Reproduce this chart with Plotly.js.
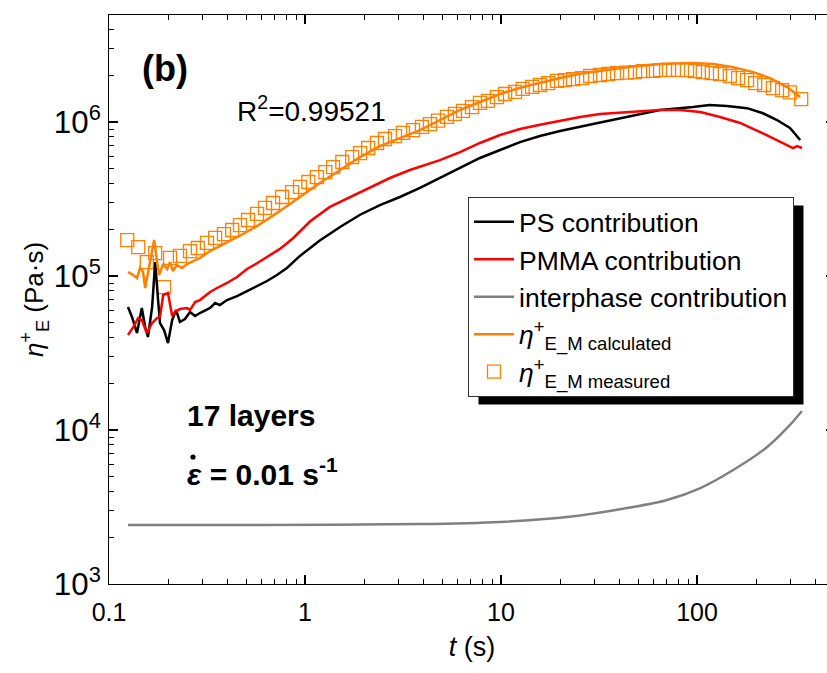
<!DOCTYPE html>
<html>
<head>
<meta charset="utf-8">
<script src="https://cdn.plot.ly/plotly-3.0.1.min.js"></script>
<style>
html,body{margin:0;padding:0;overflow:hidden;background:#fff;}
#chart{width:835px;height:673px;}
</style>
</head>
<body>
<div id="chart"></div>
<script>
// measured eta_E_M (open squares)
const tMeas = [0.124,0.141,0.156,0.172,0.191,0.205,0.230,0.259,0.284,0.316,0.348,0.386,0.425,0.466,0.512,0.569,0.625,0.687,0.764,0.859,
  0.943,1.04,1.15,1.27,1.39,1.55,1.74,1.91,2.10,2.33,2.56,2.88,3.16,3.56,3.95,4.34,4.77,5.30,5.82,6.40,
  7.11,7.81,8.58,9.54,10.5,11.8,12.9,14.4,15.8,17.4,19.3,21.2,23.3,25.9,28.5,32.0,35.2,39.1,43.9,48.3,
  53.0,59.7,64.8,72.0,80.0,88.9,97.7,107,119,131,147,162,180,198,220,244,272,298,340];
const etaMeas = [1.71e5,1.54e5,1.23e5,1.41e5,8.48e4,1.31e5,1.35e5,1.45e5,1.52e5,1.64e5,1.77e5,1.87e5,1.99e5,2.14e5,2.31e5,2.53e5,2.77e5,2.98e5,3.26e5,3.51e5,
  3.79e5,4.08e5,4.39e5,4.73e5,5.10e5,5.50e5,5.92e5,6.29e5,6.78e5,7.31e5,7.76e5,8.11e5,8.49e5,8.87e5,9.29e5,9.70e5,1.02e6,1.08e6,1.13e6,1.18e6,
  1.25e6,1.33e6,1.37e6,1.45e6,1.52e6,1.57e6,1.64e6,1.69e6,1.74e6,1.79e6,1.85e6,1.87e6,1.90e6,1.93e6,1.99e6,2.02e6,2.05e6,2.08e6,2.09e6,2.11e6,
  2.14e6,2.15e6,2.17e6,2.18e6,2.18e6,2.17e6,2.14e6,2.11e6,2.08e6,2.05e6,1.99e6,1.93e6,1.87e6,1.79e6,1.74e6,1.66e6,1.61e6,1.56e6,1.41e6];

// PS contribution (black)
const tPS = [0.125,0.131,0.139,0.147,0.153,0.158,0.166,0.172,0.178,0.182,0.191,0.200,0.210,0.220,0.230,0.244,0.259,0.275,0.291,0.328,
  0.348,0.368,0.400,0.450,0.506,0.569,0.640,0.719,0.809,0.942,1.19,1.51,1.91,2.41,3.05,3.86,4.88,6.18,7.81,9.89,
  12.5,15.8,20.0,29.5,43.9,64.7,95.4,116,142,180,217,256,298,336];
const etaPS = [6.29e4,5.42e4,4.26e4,6.20e4,4.66e4,4.02e4,6.29e4,1.23e5,6.98e4,4.95e4,4.46e4,3.67e4,5.18e4,6.01e4,5.03e4,5.26e4,5.84e4,5.50e4,5.75e4,6.20e4,
  6.68e4,6.48e4,6.98e4,7.41e4,7.99e4,8.61e4,9.28e4,1.015e5,1.127e5,1.35e5,1.70e5,2.08e5,2.50e5,2.89e5,3.26e5,3.73e5,4.33e5,5.02e5,5.84e5,6.58e5,
  7.41e5,8.11e5,8.75e5,9.70e5,1.077e6,1.197e6,1.25e6,1.29e6,1.27e6,1.23e6,1.14e6,1.03e6,9.14e5,7.64e5];

// PMMA contribution (red)
const tPMMA = [0.125,0.133,0.141,0.147,0.156,0.166,0.176,0.182,0.189,0.200,0.210,0.217,0.230,0.250,0.259,0.275,0.291,0.328,0.356,0.400,
  0.450,0.506,0.569,0.640,0.745,0.869,1.06,1.34,1.70,2.15,2.71,3.43,4.88,6.18,7.81,9.89,12.5,15.8,20.0,25.3,
  32.0,43.9,64.7,81.9,104,131,166,210,244,288,309,324,343];
const etaPMMA = [4.14e4,4.66e4,5.34e4,5.18e4,4.26e4,4.95e4,5.34e4,5.42e4,7.53e4,7.76e4,5.50e4,5.84e4,6.10e4,6.20e4,6.01e4,6.78e4,6.98e4,7.87e4,8.36e4,9.01e4,
  9.86e4,1.11e5,1.21e5,1.33e5,1.50e5,1.76e5,2.26e5,2.81e5,3.26e5,3.79e5,4.33e5,4.88e5,5.66e5,6.38e5,7.31e5,8.24e5,9.00e5,9.60e5,1.02e6,1.077e6,
  1.127e6,1.16e6,1.197e6,1.197e6,1.16e6,1.077e6,9.86e5,8.61e5,7.87e5,7.09e5,6.78e5,6.98e5,6.78e5];

// interphase contribution (gray)
const tInter = [0.125,0.524,3.86,9.89,21.7,47.1,70.3,104,153,228,298,343];
const etaInter = [2.415e3,2.415e3,2.45e3,2.53e3,2.72e3,3.16e3,3.51e3,4.20e3,5.50e3,7.76e3,1.08e4,1.33e4];

// calculated eta_E_M (orange line)
const tCalc = [0.125,0.133,0.139,0.144,0.149,0.153,0.158,0.164,0.170,0.176,0.180,0.189,0.198,0.205,0.212,0.222,0.236,0.250,0.268,0.291,
  0.328,0.368,0.429,0.483,0.569,0.663,0.745,0.942,1.19,1.51,1.91,2.41,3.05,3.86,4.88,6.18,7.81,9.89,12.5,15.8,
  20.0,25.3,32.0,43.9,64.7,95.4,121,153,193,236,288,336];
const etaCalc = [1.06e5,1.015e5,9.70e4,1.127e5,1.077e5,8.36e4,1.045e5,1.368e5,1.713e5,1.233e5,1.015e5,1.196e5,1.11e5,1.233e5,1.077e5,1.178e5,1.127e5,1.196e5,1.25e5,1.309e5,
  1.453e5,1.566e5,1.74e5,1.874e5,2.11e5,2.38e5,2.64e5,3.26e5,4.02e5,4.88e5,5.92e5,6.98e5,7.90e5,8.87e5,1.03e6,1.197e6,1.349e6,1.52e6,1.67e6,1.80e6,
  1.93e6,2.06e6,2.14e6,2.27e6,2.38e6,2.42e6,2.38e6,2.27e6,2.11e6,1.93e6,1.687e6,1.452e6];

const FONT = 'Liberation Sans, Arial, sans-serif';
const ORANGE = '#FF7F00';

const traces = [
  {x: tMeas, y: etaMeas, type: 'scatter', mode: 'markers', name: '<i>η</i><sup>+</sup><sub>E_M measured</sub>', legendrank: 5,
   marker: {symbol: 'square-open', size: 13, color: ORANGE, line: {width: 1.3, color: ORANGE}}},
  {x: tInter, y: etaInter, type: 'scatter', mode: 'lines', name: 'interphase contribution', legendrank: 3,
   line: {color: '#808080', width: 2.5, shape: 'spline', smoothing: 0.8}},
  {x: tPS, y: etaPS, type: 'scatter', mode: 'lines', name: 'PS contribution', legendrank: 1,
   line: {color: '#000000', width: 2.5}},
  {x: tPMMA, y: etaPMMA, type: 'scatter', mode: 'lines', name: 'PMMA contribution', legendrank: 2,
   line: {color: '#FF0000', width: 2.5}},
  {x: tCalc, y: etaCalc, type: 'scatter', mode: 'lines', name: '<i>η</i><sup>+</sup><sub>E_M calculated</sub>', legendrank: 4,
   line: {color: ORANGE, width: 2.5}}
];

const axisCommon = {
  type: 'log', showline: true, linecolor: '#000', linewidth: 1.2, mirror: 'ticks',
  ticks: 'inside', ticklen: 9, tickwidth: 1.2, tickcolor: '#000',
  showgrid: false, zeroline: false, tickmode: 'linear', tick0: 0, dtick: 1,
  tickfont: {family: FONT, size: 25, color: '#000'},
  minor: {ticks: 'inside', ticklen: 5, tickwidth: 1, tickcolor: '#000', dtick: 'D1', showgrid: false}
};

const layout = {
  width: 835, height: 673,
  margin: {l: 109, r: 0, t: 15, b: 89},
  paper_bgcolor: '#fff', plot_bgcolor: '#fff',
  font: {family: FONT, color: '#000'},
  showlegend: true,
  xaxis: Object.assign({}, axisCommon, {
    range: [-1, 2.704], exponentformat: 'none',
    ticklabelstandoff: 6,
    title: {text: '<i>t</i> (s)', font: {family: FONT, size: 27, color: '#000'}, standoff: 11}
  }),
  yaxis: Object.assign({}, axisCommon, {
    range: [3, 6.695], exponentformat: 'power',
    ticklabelstandoff: 2,
    title: {text: '<i>η</i><sup>+</sup><sub>E</sub> (Pa·s)', font: {family: FONT, size: 26, color: '#000'}, standoff: 2}
  }),
  legend: {
    x: 0.4945, y: 0.680, xanchor: 'left', yanchor: 'top',
    bgcolor: '#fff', bordercolor: '#333', borderwidth: 1,
    font: {family: FONT, size: 26.5, color: '#000'},
    tracegroupgap: 0, itemwidth: 40
  },
  shapes: [],
  annotations: [
    {xref: 'paper', yref: 'paper', x: 0.0771, y: 0.906, xanchor: 'center', yanchor: 'middle', showarrow: false,
     text: '<b>(b)</b>', font: {family: FONT, size: 36, color: '#000'}},
    {xref: 'paper', yref: 'paper', x: 0.2796, y: 0.8348, xanchor: 'center', yanchor: 'middle', showarrow: false,
     text: 'R<sup>2</sup>=0.99521', font: {family: FONT, size: 28, color: '#000'}},
    {xref: 'paper', yref: 'paper', x: 0.1047, y: 0.2953, xanchor: 'left', yanchor: 'middle', showarrow: false,
     text: '<b>17 layers</b>', font: {family: FONT, size: 30, color: '#000'}},
    {xref: 'paper', yref: 'paper', x: 0.1047, y: 0.1968, xanchor: 'left', yanchor: 'middle', showarrow: false,
     text: '<b><i>ε</i> = 0.01 s<sup>-1</sup></b>', font: {family: FONT, size: 30, color: '#000'}}
  ]
};

const gd = document.getElementById('chart');
Plotly.newPlot(gd, traces, layout, {displayModeBar: false, staticPlot: true}).then(function () {
  const sz = gd._fullLayout._size;
  const shapes = [];
  // dot over epsilon
  const dotX = 193, dotY = 457, r = 2.6;
  shapes.push({type: 'circle', xref: 'paper', yref: 'paper',
    x0: (dotX - r - sz.l) / sz.w, x1: (dotX + r - sz.l) / sz.w,
    y0: (sz.t + sz.h - dotY - r) / sz.h, y1: (sz.t + sz.h - dotY + r) / sz.h,
    fillcolor: '#000', line: {width: 0}, layer: 'above'});
  // legend drop shadow
  const bg = gd.querySelector('.legend .bg');
  if (bg) {
    const rb = bg.getBoundingClientRect();
    const rc = gd.getBoundingClientRect();
    const L = rb.left - rc.left, T = rb.top - rc.top, R = rb.right - rc.left, B = rb.bottom - rc.top;
    const dx = 10, dy = 8;
    shapes.push({type: 'rect', xref: 'paper', yref: 'paper',
      x0: (L + dx - sz.l) / sz.w, x1: (R + dx - sz.l) / sz.w,
      y0: (sz.t + sz.h - (B + dy)) / sz.h, y1: (sz.t + sz.h - (T + dy)) / sz.h,
      fillcolor: '#000', line: {width: 0}, layer: 'above'});
  }
  return Plotly.relayout(gd, {shapes: shapes});
});
</script>
</body>
</html>
